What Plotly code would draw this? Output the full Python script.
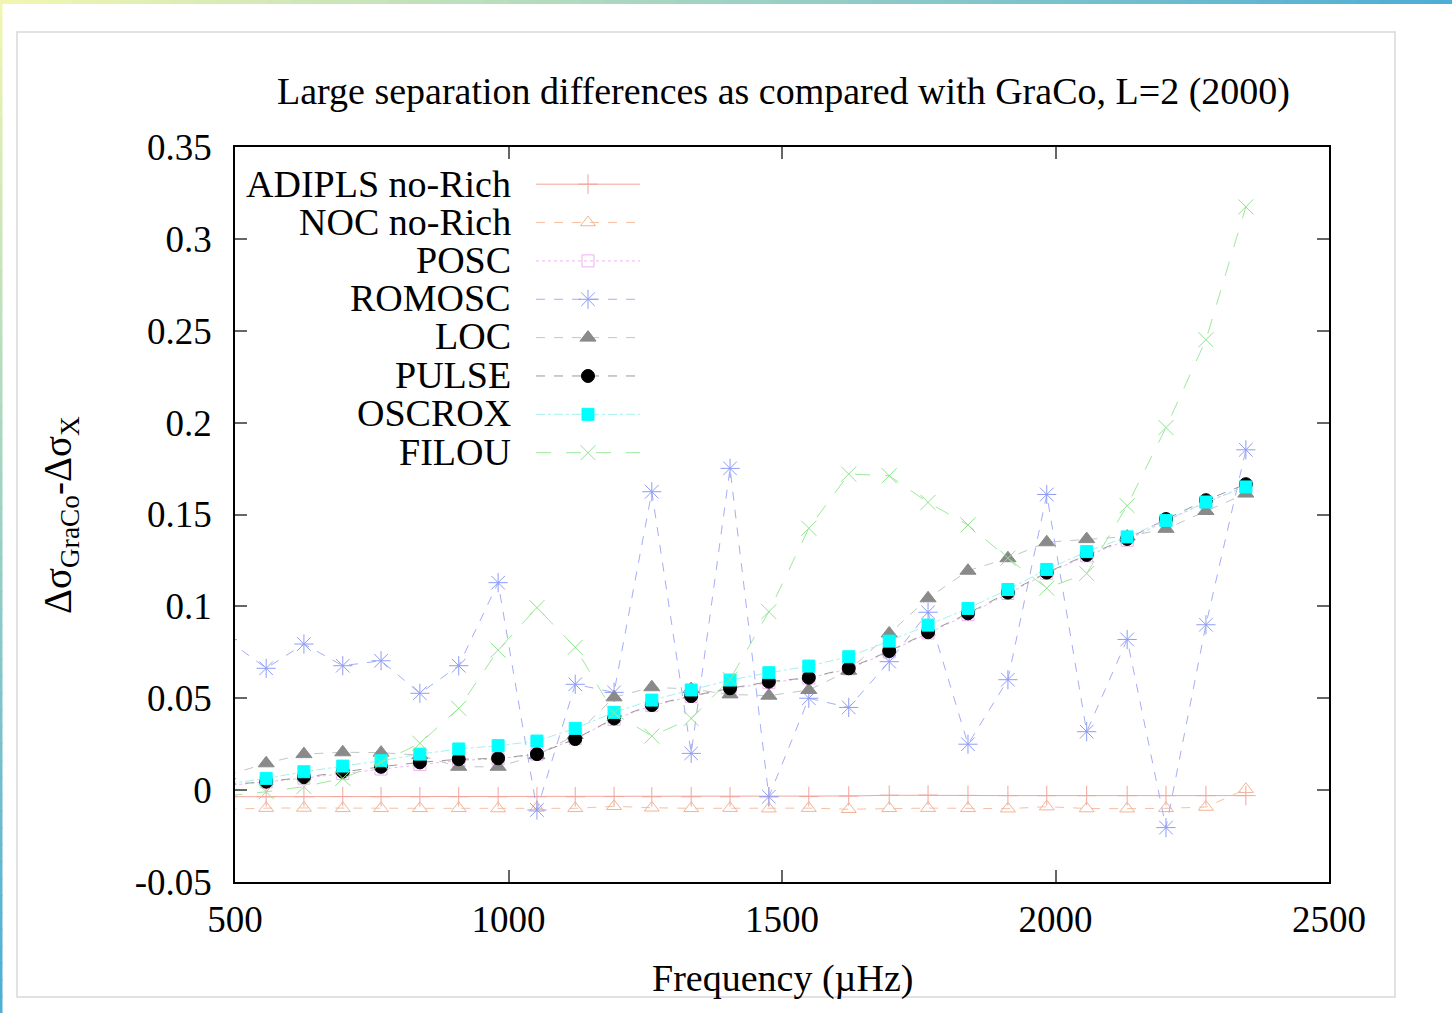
import plotly.graph_objects as go

# frequency of each mode (muHz)
freq = [486, 557, 626, 697, 767, 838, 909, 981, 1052, 1122, 1193, 1262, 1334, 1405,
        1476, 1549, 1622, 1696, 1767, 1840, 1913, 1984, 2057, 2131, 2202, 2275, 2348]

adipls = [-0.0036, -0.0036, -0.0036, -0.0035, -0.0036, -0.0036, -0.0036, -0.0036, -0.0036,
          -0.0036, -0.0035, -0.0036, -0.0036, -0.0036, -0.0036, -0.0035, -0.0032, -0.0028,
          -0.0027, -0.0029, -0.0030, -0.0030, -0.0030, -0.0030, -0.0030, -0.0030, -0.0030]
noc = [-0.0104, -0.0098, -0.0097, -0.0099, -0.0099, -0.0099, -0.0099, -0.0100, -0.0097,
       -0.0099, -0.0088, -0.0096, -0.0099, -0.0098, -0.0101, -0.0098, -0.0104, -0.0099,
       -0.0098, -0.0099, -0.0101, -0.0090, -0.0100, -0.0101, -0.0099, -0.0092, 0.0005]
posc = [0.0025, 0.0045, 0.0065, 0.0090, 0.0115, 0.0140, 0.0162, 0.0170, 0.0195, 0.0280,
        0.0385, 0.0460, 0.0510, 0.0550, 0.0585, 0.0610, 0.0660, 0.0752, 0.0855, 0.0955,
        0.1070, 0.1180, 0.1275, 0.1360, 0.1465, 0.1565, 0.1655]
romosc = [0.0819, 0.0663, 0.0795, 0.0677, 0.0704, 0.0527, 0.0677, 0.1129, -0.0108, 0.0576,
          0.0532, 0.1624, 0.0200, 0.1751, -0.0036, 0.0500, 0.0450, 0.0699, 0.0968, 0.0250,
          0.0601, 0.1609, 0.0318, 0.0820, -0.0204, 0.0900, 0.1852]
loc = [0.0080, 0.0146, 0.0196, 0.0206, 0.0204, 0.0190, 0.0127, 0.0127, 0.0190, 0.0300,
       0.0505, 0.0560, 0.0550, 0.0521, 0.0514, 0.0545, 0.0650, 0.0853, 0.1044, 0.1194,
       0.1262, 0.1349, 0.1366, 0.1380, 0.1422, 0.1519, 0.1614]
pulse = [0.0030, 0.0046, 0.0070, 0.0100, 0.0127, 0.0151, 0.0168, 0.0173, 0.0196, 0.0278,
         0.0390, 0.0463, 0.0512, 0.0554, 0.0590, 0.0612, 0.0663, 0.0757, 0.0859, 0.0962,
         0.1075, 0.1184, 0.1280, 0.1367, 0.1475, 0.1578, 0.1665]
oscrox = [0.0034, 0.0064, 0.0100, 0.0131, 0.0160, 0.0196, 0.0224, 0.0242, 0.0267, 0.0336,
          0.0423, 0.0490, 0.0545, 0.0599, 0.0639, 0.0675, 0.0726, 0.0811, 0.0898, 0.0989,
          0.1092, 0.1201, 0.1298, 0.1378, 0.1468, 0.1568, 0.1650]
filou = [-0.0031, -0.0009, 0.0019, 0.0064, 0.0151, 0.0255, 0.0445, 0.0762, 0.0993, 0.0777,
         0.0418, 0.0294, 0.0390, 0.0603, 0.0971, 0.1425, 0.1720, 0.1711, 0.1566, 0.1443,
         0.1262, 0.1099, 0.1179, 0.1548, 0.1973, 0.2451, 0.3174]

names = ['ADIPLS no-Rich', 'NOC no-Rich', 'POSC', 'ROMOSC', 'LOC', 'PULSE', 'OSCROX', 'FILOU']

yticks = [-0.05, 0, 0.05, 0.1, 0.15, 0.2, 0.25, 0.3, 0.35]
ytext = ['-0.05', '0', '0.05', '0.1', '0.15', '0.2', '0.25', '0.3', '0.35']
xticks = [500, 1000, 1500, 2000, 2500]

FONT = 'Liberation Serif, Times New Roman, serif'

# plot area in page pixels
L, R, T, B = 235, 1329, 147, 882
W, H = 1452, 1013


def px(x):
    return (x - L) / (R - L)


def py(y):
    return (B - y) / (B - T)


styles = [
    # line color, dash, symbol, marker color, marker size
    ('#f3a59c', 'solid', 'cross-thin-open', '#f2a49c', 14),
    ('#f6c0a4', 'dash', 'triangle-up-open', '#f2b496', 13),
    ('#efb6ef', 'dot', 'square-open', '#eeb0ee', 12),
    ('#a4aef8', 'dash', 'asterisk-open', '#8f9cf6', 16),
    ('#c4c4c4', 'dash', 'triangle-up', '#8a8a8a', 14),
    ('#9a9a9a', 'dash', 'circle', '#000000', 13),
    ('#a6f0f0', 'dashdot', 'square', '#00ffff', 12),
    ('#9ce89c', 'longdash', 'x-thin-open', '#90e490', 15),
]

series = [adipls, noc, posc, romosc, loc, pulse, oscrox, filou]

fig = go.Figure()
for name, vals, (lc, dash, sym, mc, ms) in zip(names, series, styles):
    fig.add_trace(go.Scatter(
        x=freq, y=vals, mode='lines+markers', name=' ',
        line=dict(color=lc, width=1, dash=dash),
        marker=dict(symbol=sym, color=mc, size=ms,
                    line=dict(color=mc, width=1)),
        showlegend=True,
    ))

axis_font = dict(family=FONT, size=37, color='black')

# page decoration: grey frame and gradient edges
shapes = [dict(type='rect', xref='paper', yref='paper', layer='below',
               x0=px(17), x1=px(1395), y0=py(32), y1=py(997),
               line=dict(color='#d9d9d9', width=1.5), fillcolor='rgba(0,0,0,0)')]
n = 60
c0, c1 = (240, 246, 176), (78, 174, 214)
for i in range(n):
    t = i / (n - 1)
    col = 'rgb(%d,%d,%d)' % tuple(round(a + (b - a) * t) for a, b in zip(c0, c1))
    shapes.append(dict(type='rect', xref='paper', yref='paper', layer='below',
                       x0=px(W * i / n), x1=px(W * (i + 1) / n + 1), y0=py(0), y1=py(4),
                       line=dict(width=0), fillcolor=col))
    shapes.append(dict(type='rect', xref='paper', yref='paper', layer='below',
                       x0=px(0), x1=px(2.5), y0=py(H * i / n), y1=py(H * (i + 1) / n + 1),
                       line=dict(width=0), fillcolor=col))

annotations = [
    dict(text='Large separation differences as compared with GraCo, L=2 (2000)',
         xref='paper', yref='paper', x=px(783), y=py(91), showarrow=False,
         xanchor='center', yanchor='middle', font=dict(family=FONT, size=38, color='black')),
    dict(text='Frequency (\u00b5Hz)', xref='paper', yref='paper', x=px(782), y=py(978),
         showarrow=False, xanchor='center', yanchor='middle',
         font=dict(family=FONT, size=38, color='black')),
    dict(text='\u0394\u03c3<sub>GraCo</sub>-\u0394\u03c3<sub>X</sub>', xref='paper', yref='paper',
         x=px(60), y=py(515), showarrow=False, textangle=-90, xanchor='center', yanchor='middle',
         font=dict(family=FONT, size=39, color='black')),
]
leg_y = [184, 222, 260, 298, 336, 375, 413, 452]
for name, yy in zip(names, leg_y):
    annotations.append(dict(text=name, xref='paper', yref='paper', x=px(513), y=py(yy),
                            showarrow=False, xanchor='right', yanchor='middle',
                            font=dict(family=FONT, size=38, color='black')))

fig.update_layout(
    width=W, height=H,
    margin=dict(l=L, r=W - R, t=T, b=H - B),
    paper_bgcolor='white', plot_bgcolor='white',
    showlegend=True,
    legend=dict(x=px(531), y=py(160), xanchor='left', yanchor='top',
                bgcolor='rgba(0,0,0,0)', borderwidth=0, itemwidth=104,
                font=dict(family=FONT, size=27.2), tracegroupgap=0,
                itemclick=False, itemdoubleclick=False),
    xaxis=dict(range=[500, 2500], tickvals=xticks, ticks='inside', ticklen=12,
               tickcolor='#666666', tickwidth=1.5, showline=True, linecolor='black',
               linewidth=1.5, mirror='ticks', showgrid=False, zeroline=False,
               tickfont=axis_font, ticklabelstandoff=4),
    yaxis=dict(range=[-0.05, 0.35], tickvals=yticks, ticktext=ytext, ticks='inside',
               ticklen=12, tickcolor='#666666', tickwidth=1.5, showline=True,
               linecolor='black', linewidth=1.5, mirror='ticks', showgrid=False,
               zeroline=False, tickfont=axis_font, ticklabelstandoff=14),
    shapes=shapes,
    annotations=annotations,
)

fig.write_html('out.html', config={'displayModeBar': False},
               post_script="document.body.style.margin='0';")
